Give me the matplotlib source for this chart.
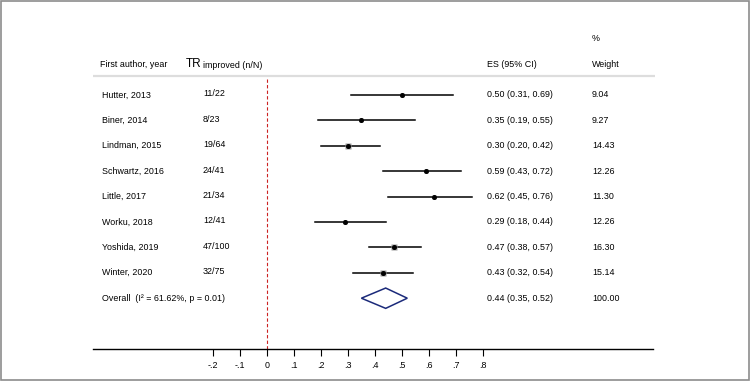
"""
Forest plot: proportion with TR improved, per study
"""

import matplotlib

matplotlib.use("Agg")
import matplotlib.pyplot as plt
from matplotlib.patches import Polygon, Rectangle
import numpy as np

plt.rcParams["font.family"] = ["Liberation Sans Narrow", "Liberation Sans", "DejaVu Sans"]

# Data
studies = [
    "Hutter, 2013",
    "Biner, 2014",
    "Lindman, 2015",
    "Schwartz, 2016",
    "Little, 2017",
    "Worku, 2018",
    "Yoshida, 2019",
    "Winter, 2020",
]
n_improved = ["11/22", "8/23", "19/64", "24/41", "21/34", "12/41", "47/100", "32/75"]
es = [0.50, 0.35, 0.30, 0.59, 0.62, 0.29, 0.47, 0.43]
ci_low = [0.31, 0.19, 0.20, 0.43, 0.45, 0.18, 0.38, 0.32]
ci_high = [0.69, 0.55, 0.42, 0.72, 0.76, 0.44, 0.57, 0.54]
weights = [9.04, 9.27, 14.43, 12.26, 11.30, 12.26, 16.30, 15.14]

overall_es, overall_low, overall_high = 0.44, 0.35, 0.52
overall_label = "Overall  (I\u00b2 = 61.62%, p = 0.01)"
xticks = [-0.2, -0.1, 0, 0.1, 0.2, 0.3, 0.4, 0.5, 0.6, 0.7, 0.8]

fig = plt.figure(figsize=(7.5, 3.81), dpi=100)
ax = fig.add_axes([93 / 750, 1 - 349 / 381, 560 / 750, 349 / 381])
ax.set_xlim(-0.644, 1.430)
ax.set_ylim(10.0, -3.74)

# column positions (data x)
x_name, x_n, x_es, x_w = -0.611, -0.237, 0.815, 1.204
fs = 6.4

# headers
ax.text(-0.619, -1.22, "First author, year", fontsize=fs, va="center", ha="left")
ax.text(-0.30, -1.24, "TR", fontsize=8.5, va="center", ha="left")
ax.text(-0.236, -1.17, "improved (n/N)", fontsize=fs, va="center", ha="left")
ax.text(x_es, -1.22, "ES (95% CI)", fontsize=fs, va="center", ha="left")
ax.text(x_w, -2.24, "%", fontsize=fs, va="center", ha="left")
ax.text(x_w, -1.22, "Weight", fontsize=fs, va="center", ha="left")
ax.plot([-0.644, 1.437], [-0.75, -0.75], color="#dddddd", lw=1.6,
        solid_capstyle="butt", clip_on=False)

# null line
ax.plot([0, 0], [-0.62, 10.0], color="#cc2222", lw=0.8, ls=(0, (3, 2)))

for i in range(len(studies)):
    ax.plot([ci_low[i], ci_high[i]], [i, i], color="black", lw=1.1)
    ax.plot(es[i], i, marker="s", ms=1.0 * np.sqrt(weights[i]),
            color="#9a9a9a", mec="none", ls="none")
    ax.plot(es[i], i, marker="o", ms=2.6, color="black", ls="none")
    ax.text(x_name, i, studies[i], fontsize=fs, va="center", ha="left")
    ax.text(x_n, i - 0.04, n_improved[i], fontsize=fs, va="center", ha="left")
    ax.text(x_es, i, f"{es[i]:.2f} ({ci_low[i]:.2f}, {ci_high[i]:.2f})",
            fontsize=fs, va="center", ha="left")
    ax.text(x_w, i, f"{weights[i]:.2f}", fontsize=fs, va="center", ha="left")

# overall diamond
row = len(studies)
diamond = Polygon(
    [[overall_low, row], [overall_es, row - 0.4],
     [overall_high, row], [overall_es, row + 0.4]],
    closed=True, facecolor="white", edgecolor="#1b2a7a", lw=1.1,
)
ax.add_patch(diamond)
ax.text(x_name, row, overall_label, fontsize=fs, va="center", ha="left")
ax.text(x_es, row, f"{overall_es:.2f} ({overall_low:.2f}, {overall_high:.2f})",
        fontsize=fs, va="center", ha="left")
ax.text(x_w, row, "100.00", fontsize=fs, va="center", ha="left")

# axes styling
for side in ["top", "left", "right"]:
    ax.spines[side].set_visible(False)
ax.spines["bottom"].set_linewidth(1.0)
ax.set_yticks([])
ax.set_xticks(xticks)
labels = []
for v in xticks:
    s = f"{v:.1f}".replace("0.", ".")
    if abs(v) < 1e-9:
        s = "0"
    labels.append(s)
ax.set_xticklabels(labels, fontsize=fs)
ax.tick_params(axis="x", direction="out", length=5, width=0.8, pad=4)

# thin grey frame around figure
fig.patches.append(Rectangle((0.001, 0.002), 0.997, 0.996, transform=fig.transFigure,
                             fill=False, edgecolor="#8c8c8c", lw=1.2))

fig.savefig("out.png", dpi=100)
